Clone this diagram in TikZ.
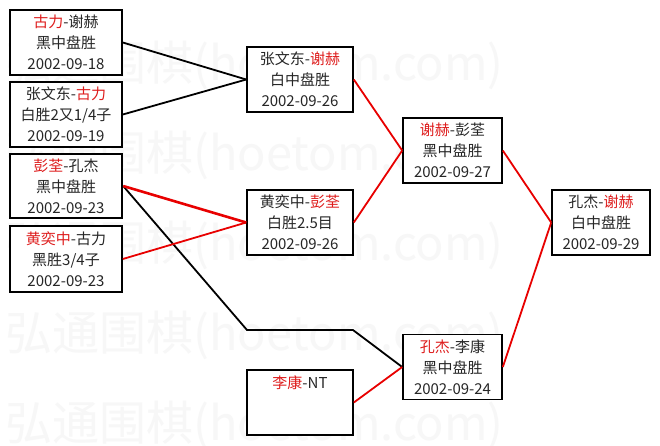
\documentclass[tikz,border=0pt]{standalone}
\usepackage{fontspec}
\setmainfont{Noto Sans CJK SC}
\definecolor{tred}{RGB}{222,28,28}
\definecolor{lred}{RGB}{232,0,0}
\definecolor{wmark}{RGB}{247,247,247}
\newcommand{\rt}[1]{\textcolor{tred}{#1}}
\begin{document}
\begin{tikzpicture}[x=1pt,y=-1pt,
  box/.style={draw=black,line width=1.6pt,fill=white,inner sep=0pt,align=center,
    font=\fontsize{15}{21}\selectfont,text=black!85},
  lbox/.style={box,minimum width=112pt,minimum height=65pt},
  mbox/.style={box,minimum width=106pt,minimum height=65pt},
  rbox/.style={box,minimum width=99pt,minimum height=65pt},
  blk/.style={draw=black,line width=1.8pt},
  rd/.style={draw=lred,line width=1.8pt},
  wm/.style={anchor=west,inner sep=0pt,text=wmark,font=\fontsize{47}{47}\selectfont}]
\useasboundingbox (0,0) rectangle (660,445);
\fill[white] (0,0) rectangle (660,445);
% watermark
\foreach \yy/\nm in {65/w1,155/w2,245/w3,335/w4,425/w5}
  \node[wm] (\nm) at (5,\yy) {弘通围棋(hoetom.com)};
\coordinate (k1) at (247,330);
\coordinate (k2) at (353,330);
% boxes
\node[lbox] (a1) at (66,42.5) {\rt{古力}-谢赫\\黑中盘胜\\2002-09-18};
\node[lbox] (a2) at (66,114.5) {张文东-\rt{古力}\\白胜2又1/4子\\2002-09-19};
\node[lbox,line width=2.4pt,minimum height=64pt] (a3) at (66,186) {\rt{彭荃}-孔杰\\黑中盘胜\\2002-09-23};
\node[lbox,minimum height=66pt] (a4) at (66,259) {\rt{黄奕中}-古力\\黑胜3/4子\\2002-09-23};
\node[mbox] (b1) at (300,79.5) {张文东-\rt{谢赫}\\白中盘胜\\2002-09-26};
\node[mbox] (b2) at (300,222.5) {黄奕中-\rt{彭荃}\\白胜2.5目\\2002-09-26};
\node[mbox] (b3) at (300,402.5) {};
\node[anchor=north,inner sep=0pt,font=\fontsize{15}{21}\selectfont,text=black!85] (b3t) at (300,376) {\rt{李康}-NT};
\node[rbox] (c1) at (452.5,150.5) {\rt{谢赫}-彭荃\\黑中盘胜\\2002-09-27};
\node[rbox] (c2) at (452.5,367) {\rt{孔杰}-李康\\黑中盘胜\\2002-09-24};
\node[box,minimum width=98pt,minimum height=65pt] (d1) at (601,222.5) {孔杰-\rt{谢赫}\\白中盘胜\\2002-09-29};
% connectors
\path[blk] (a1.east) -- (b1.west);
\path[blk] (a2.east) -- (b1.west);
\path[blk] (a3.east) -- (k1) -- (k2) -- (c2.west);
\path[rd,line width=2.6pt] (a3.east) -- (b2.west);
\path[rd] (a4.east) -- (b2.west);
\path[rd] (b1.east) -- (c1.west);
\path[rd] (b2.east) -- (c1.west);
\path[rd] (b3.east) -- (c2.west);
\path[rd] (c1.east) -- (d1.west);
\path[rd] (c2.east) -- (d1.west);
\end{tikzpicture}
\end{document}
